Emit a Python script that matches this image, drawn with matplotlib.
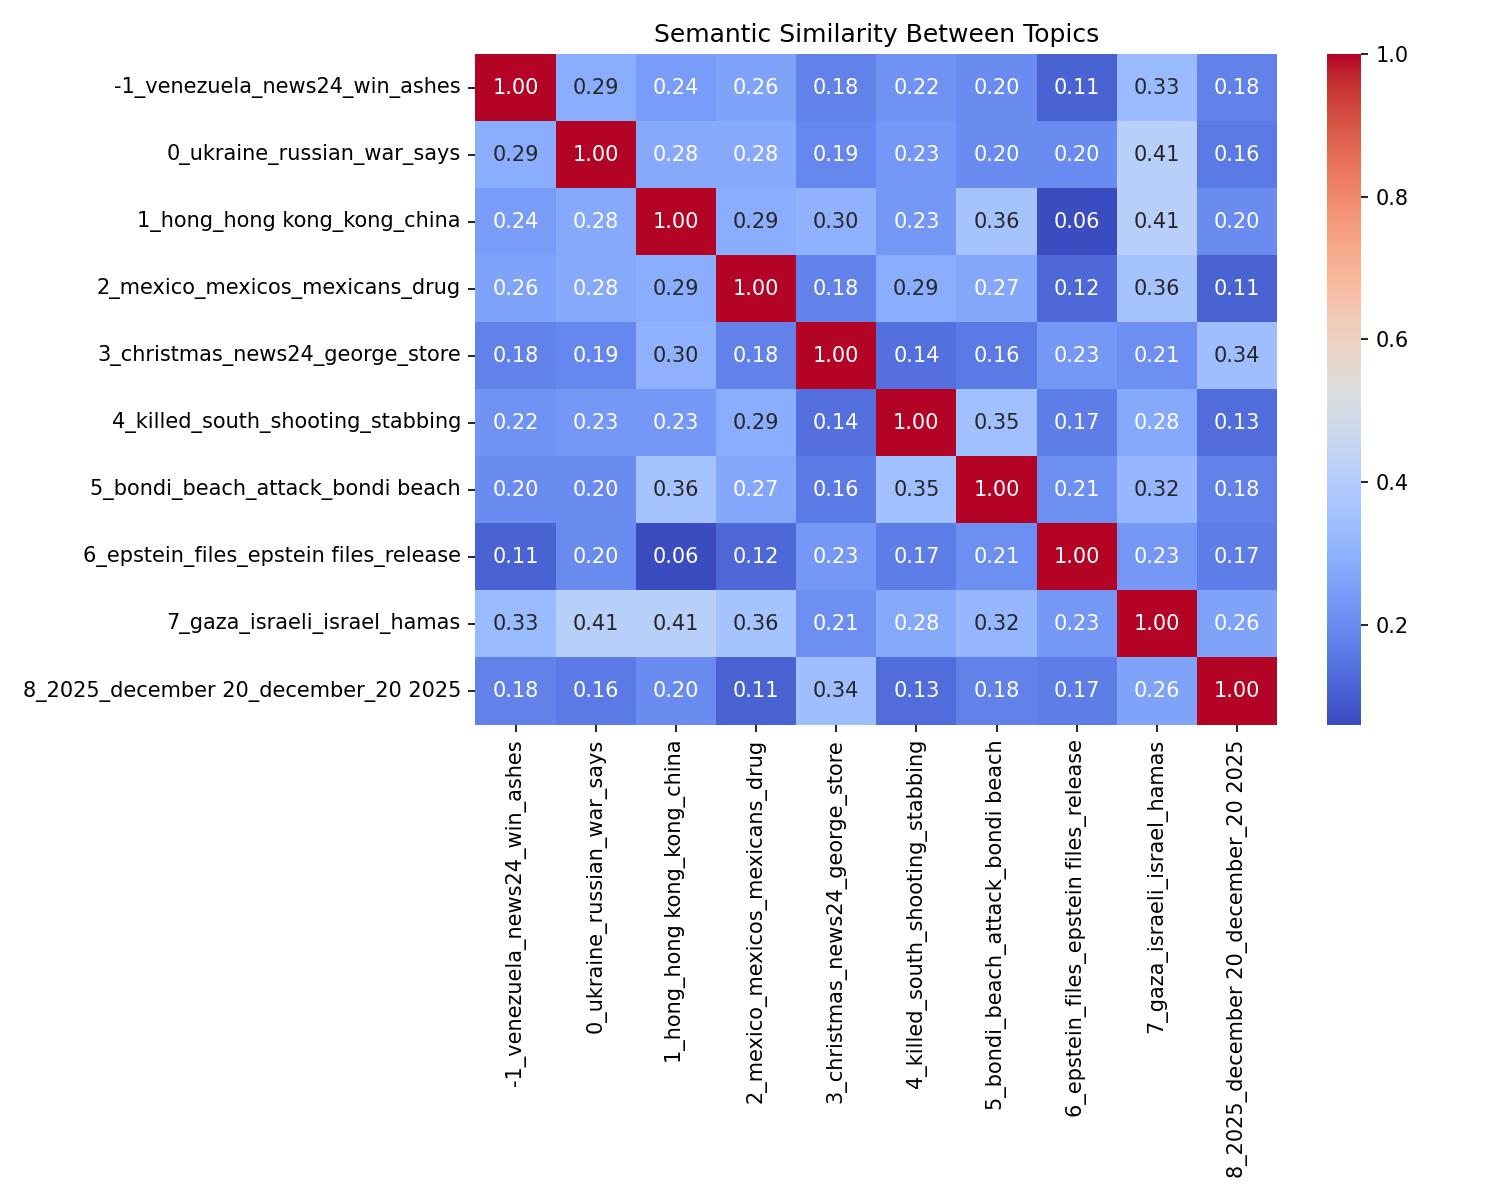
import matplotlib
matplotlib.use("Agg")
import matplotlib.pyplot as plt
import seaborn as sns
import numpy as np

topics = [
    "-1_venezuela_news24_win_ashes",
    "0_ukraine_russian_war_says",
    "1_hong_hong kong_kong_china",
    "2_mexico_mexicos_mexicans_drug",
    "3_christmas_news24_george_store",
    "4_killed_south_shooting_stabbing",
    "5_bondi_beach_attack_bondi beach",
    "6_epstein_files_epstein files_release",
    "7_gaza_israeli_israel_hamas",
    "8_2025_december 20_december_20 2025",
]

similarity = [
    [1.00, 0.29, 0.24, 0.26, 0.18, 0.22, 0.20, 0.11, 0.33, 0.18],
    [0.29, 1.00, 0.28, 0.28, 0.19, 0.23, 0.20, 0.20, 0.41, 0.16],
    [0.24, 0.28, 1.00, 0.29, 0.30, 0.23, 0.36, 0.06, 0.41, 0.20],
    [0.26, 0.28, 0.29, 1.00, 0.18, 0.29, 0.27, 0.12, 0.36, 0.11],
    [0.18, 0.19, 0.30, 0.18, 1.00, 0.14, 0.16, 0.23, 0.21, 0.34],
    [0.22, 0.23, 0.23, 0.29, 0.14, 1.00, 0.35, 0.17, 0.28, 0.13],
    [0.20, 0.20, 0.36, 0.27, 0.16, 0.35, 1.00, 0.21, 0.32, 0.18],
    [0.11, 0.20, 0.06, 0.12, 0.23, 0.17, 0.21, 1.00, 0.23, 0.17],
    [0.33, 0.41, 0.41, 0.36, 0.21, 0.28, 0.32, 0.23, 1.00, 0.26],
    [0.18, 0.16, 0.20, 0.11, 0.34, 0.13, 0.18, 0.17, 0.26, 1.00],
]

fig, ax = plt.subplots(figsize=(10, 8), dpi=150)
sns.heatmap(np.array(similarity), annot=True, fmt=".2f", cmap="coolwarm",
            xticklabels=topics, yticklabels=topics, ax=ax)
ax.set_title("Semantic Similarity Between Topics")
plt.tight_layout()
fig.savefig("out.png", dpi=150)
